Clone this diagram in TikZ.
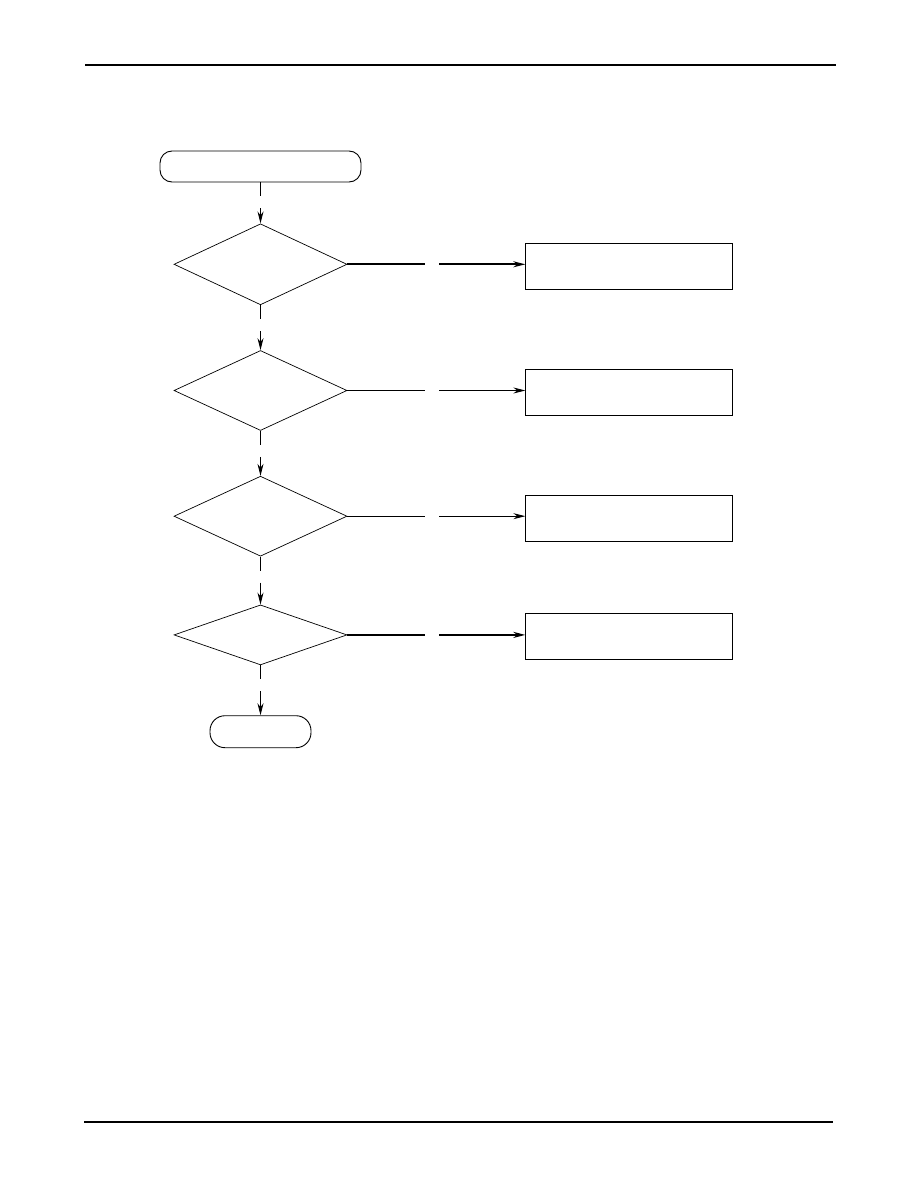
\documentclass[tikz,border=0pt]{standalone}
\usepackage{tikz}
\usetikzlibrary{shapes,arrows,arrows.meta,positioning,calc}

\begin{document}
\begin{tikzpicture}[
    x=1pt, y=-1pt,
    node distance=45pt and 178pt,
    terminal/.style={rectangle, rounded corners=12pt, draw=black, line width=0.9pt, minimum width=201pt, minimum height=31pt, inner sep=0pt},
    decision/.style={diamond, draw=black, line width=0.7pt, minimum width=173pt, minimum height=80pt, inner sep=0pt},
    action/.style={rectangle, draw=black, line width=1pt, minimum width=207pt, minimum height=46pt, inner sep=0pt},
    arrow/.style={-{Stealth[length=12pt,width=6pt]}, line width=0.9pt},
    vgap/.style={arrow, dash pattern=on 14pt off 12pt on 200pt},
    hgap/.style={arrow, dash pattern=on 78pt off 14pt on 200pt},
    rule/.style={line width=1.3pt}
]
    \useasboundingbox (0,0) rectangle (918,1188);

    % page rules
    \draw[rule] (85,65) -- (836,65);
    \draw[rule] (84,1122) -- (833,1122);

    % main column
    \node[terminal] (start) at (260.5,166.5) {};
    \node[decision, below=41pt of start, minimum height=81pt] (check1) {};
    \node[decision, below=45pt of check1] (check2) {};
    \node[decision, below=45pt of check2] (check3) {};
    \node[decision, below=48pt of check3, minimum height=60pt] (check4) {};
    \node[terminal, below=50pt of check4, minimum width=101pt, minimum height=32pt, rounded corners=15pt] (stop) {};

    % actions (right side)
    \node[action, right=of check1, yshift=-2pt] (fix1) {};
    \node[action, right=of check2, yshift=-2pt] (fix2) {};
    \node[action, right=of check3, yshift=-2pt] (fix3) {};
    \node[action, right=of check4, yshift=-2pt] (fix4) {};

    % down the column
    \draw[vgap] (start) -- (check1);
    \draw[vgap] (check1) -- (check2);
    \draw[vgap] (check2) -- (check3);
    \draw[vgap] (check3) -- (check4);
    \draw[vgap] (check4) -- (stop);

    % checks to actions
    \draw[hgap, line width=1.8pt] (check1.east) -- (check1.east -| fix1.west);
    \draw[hgap] (check2.east) -- (check2.east -| fix2.west);
    \draw[hgap] (check3.east) -- (check3.east -| fix3.west);
    \draw[hgap, line width=1.8pt] (check4.east) -- (check4.east -| fix4.west);

\end{tikzpicture}
\end{document}
